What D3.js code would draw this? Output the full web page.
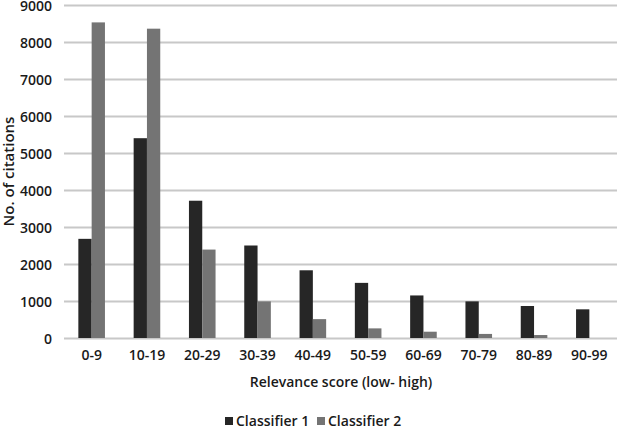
<!DOCTYPE html>
<head>
    <meta charset="utf-8">
    <title>Relevance score histogram</title>
    <style>
        body { margin: 0; background: #fff; }
        text { font-family: "Open Sans", sans-serif; fill: #1a1a1a; }
        .grid line { stroke: #c8c8c8; stroke-width: 2; }
        .domain { display: none; }
    </style>
</head>
<body>
    <svg width="618" height="430"></svg>

    <script src="https://d3js.org/d3.v7.min.js"></script>
    <script>

        var categories = ["0-9", "10-19", "20-29", "30-39", "40-49", "50-59", "60-69", "70-79", "80-89", "90-99"];
        var classifier1 = [2680, 5400, 3710, 2500, 1830, 1490, 1150, 990, 865, 775];
        var classifier2 = [8530, 8360, 2390, 990, 510, 260, 170, 110, 80, 0];
        var seriesNames = ["Classifier 1", "Classifier 2"];
        var yTicks = [0, 1000, 2000, 3000, 4000, 5000, 6000, 7000, 8000, 9000];
        var colors = ["#262626", "#747474"];

        var svg = d3.select("svg"),
            margin = { top: 5, right: 1, bottom: 92, left: 64 },
            width = +svg.attr("width") - margin.left - margin.right,
            height = +svg.attr("height") - margin.top - margin.bottom,
            g = svg.append("g").attr("transform", "translate(" + margin.left + "," + margin.top + ")");

        var x = d3.scaleBand().domain(categories).range([0, width]).paddingInner(0).paddingOuter(0);
        var x1 = d3.scaleBand().domain(seriesNames).range([x.bandwidth() / 2 - 13.3, x.bandwidth() / 2 + 13.3]);
        var y = d3.scaleLinear().domain([0, 9000]).range([height, 0]);

        // gridlines
        g.append("g")
            .attr("class", "grid")
            .call(d3.axisLeft(y).tickValues(yTicks).tickSize(-width).tickFormat(""));

        // y tick labels
        g.append("g")
            .call(d3.axisLeft(y).tickValues(yTicks).tickSize(0).tickPadding(12).tickFormat(d3.format("d")))
            .call(function (a) { a.selectAll("text").style("font-size", "14px").style("font-weight", "600").attr("dy", "0.4em"); });

        // x tick labels
        g.append("g")
            .attr("transform", "translate(0," + height + ")")
            .call(d3.axisBottom(x).tickSize(0).tickPadding(12))
            .call(function (a) { a.selectAll("text").style("font-size", "14px").style("font-weight", "600"); });

        var rows = categories.map(function (c, i) { return { cat: c, vals: [classifier1[i], classifier2[i]] }; });

        var grp = g.selectAll(".cat")
            .data(rows)
            .enter().append("g")
            .attr("transform", function (d) { return "translate(" + x(d.cat) + ",0)"; });

        grp.selectAll("rect")
            .data(function (d) { return d.vals.map(function (v, j) { return { name: seriesNames[j], v: v, j: j }; }); })
            .enter().append("rect")
            .attr("x", function (d) { return x1(d.name); })
            .attr("width", x1.bandwidth())
            .attr("y", function (d) { return y(d.v); })
            .attr("height", function (d) { return height - y(d.v); })
            .attr("fill", function (d) { return colors[d.j]; });

        // axis titles
        svg.append("text")
            .attr("x", 341)
            .attr("y", 387)
            .attr("text-anchor", "middle")
            .style("font-size", "14px")
            .style("font-weight", "600")
            .text("Relevance score (low- high)");

        svg.append("text")
            .attr("transform", "translate(14," + (margin.top + height / 2) + ") rotate(-90)")
            .attr("text-anchor", "middle")
            .style("font-size", "15px")
            .style("font-weight", "600")
            .text("No. of citations");

        // legend
        var legendX = [225, 317];
        var legend = svg.selectAll(".legend")
            .data(seriesNames)
            .enter().append("g")
            .attr("transform", function (d, i) { return "translate(" + legendX[i] + ",417)"; });

        legend.append("rect")
            .attr("width", 8).attr("height", 8)
            .attr("fill", function (d, i) { return colors[i]; });

        legend.append("text")
            .attr("x", 11).attr("y", 8.5)
            .style("font-size", "14px")
            .style("font-weight", "600")
            .text(function (d) { return d; });
    </script>
</body>
